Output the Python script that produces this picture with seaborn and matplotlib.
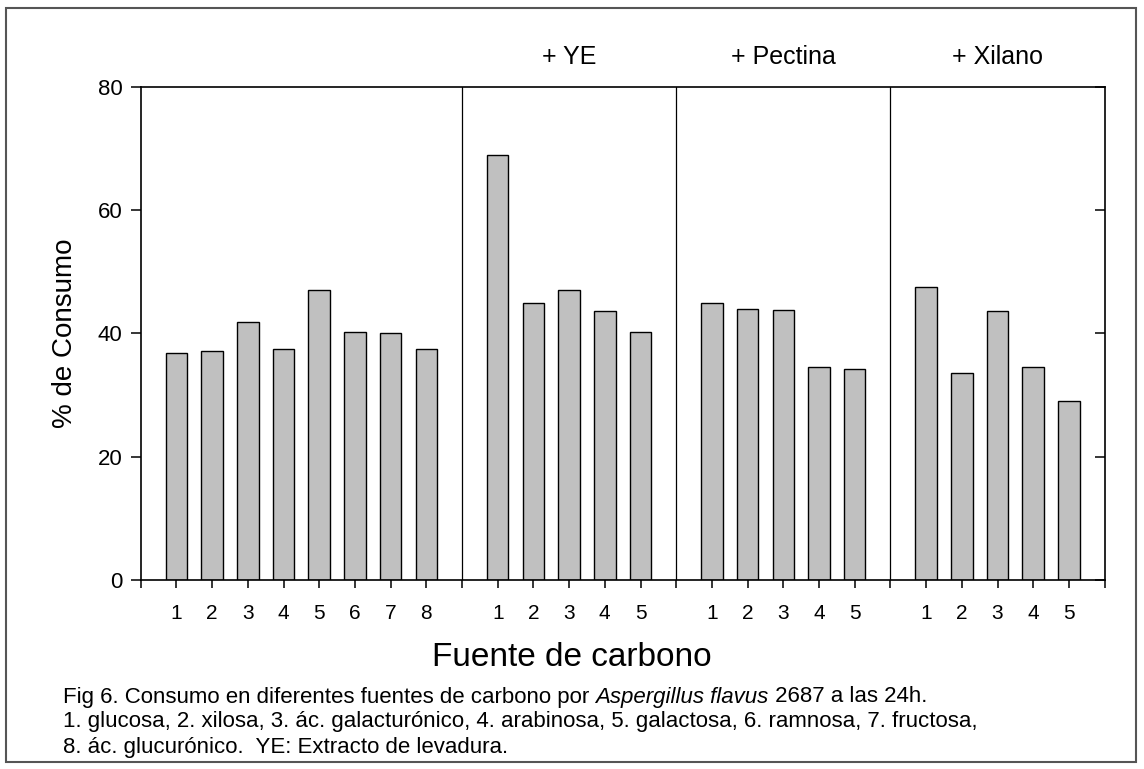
import numpy as np
import pandas as pd
import matplotlib
matplotlib.use("Agg")
import matplotlib.pyplot as plt
from matplotlib.patches import Rectangle
from matplotlib import font_manager
import seaborn as sns

# Carbon-source groups: base medium and three supplemented media
group_titles = ["", "+ YE", "+ Pectina", "+ Xilano"]
base_labels = ["1", "2", "3", "4", "5", "6", "7", "8"]
ye_labels = ["1", "2", "3", "4", "5"]
pectina_labels = ["1", "2", "3", "4", "5"]
xilano_labels = ["1", "2", "3", "4", "5"]

base_values = [36.8, 37.2, 41.8, 37.5, 47.0, 40.3, 40.1, 37.5]
ye_values = [69.0, 45.0, 47.0, 43.6, 40.2]
pectina_values = [44.9, 43.9, 43.8, 34.5, 34.2]
xilano_values = [47.5, 33.5, 43.7, 34.5, 29.0]

y_ticks = [0, 20, 40, 60, 80]

caption_lines = [
    ("Fig 6. Consumo en diferentes fuentes de carbono por ", "Aspergillus flavus", " 2687 a las 24h."),
    "1. glucosa, 2. xilosa, 3. ác. galacturónico, 4. arabinosa, 5. galactosa, 6. ramnosa, 7. fructosa,",
    "8. ác. glucurónico.  YE: Extracto de levadura.",
]

# Lay the groups out along a single numeric axis, one empty slot between groups
label_groups = [base_labels, ye_labels, pectina_labels, xilano_labels]
value_groups = [base_values, ye_values, pectina_values, xilano_values]
rows = []
separators = []
group_spans = []
pos = 0
for gi, (labs, vals) in enumerate(zip(label_groups, value_groups)):
    start = pos
    for lab, v in zip(labs, vals):
        pos += 1
        rows.append({"pos": pos, "label": lab, "value": v})
    pos += 1
    group_spans.append((start, pos))
    if gi < len(label_groups) - 1:
        separators.append(pos)
df = pd.DataFrame(rows)
x_max = pos

sns.set_theme(style="ticks")
available = {f.name for f in font_manager.fontManager.ttflist}
base_font = "Liberation Sans" if "Liberation Sans" in available else "DejaVu Sans"
plt.rcParams["font.family"] = [base_font, "DejaVu Sans"]
plt.rcParams["text.color"] = "black"
plt.rcParams["axes.labelcolor"] = "black"
plt.rcParams["xtick.color"] = "black"
plt.rcParams["ytick.color"] = "black"

fig = plt.figure(figsize=(11.44, 7.69), dpi=100)
ax = fig.add_axes([140.7 / 1144, 1 - 580 / 769, (1104.6 - 140.7) / 1144, (580 - 86.7) / 769])

sns.barplot(data=df, x="pos", y="value", native_scale=True, width=0.6,
            color="#c0c0c0", saturation=1, edgecolor="black", linewidth=1.0,
            ax=ax, errorbar=None)

ax.set_xlim(0, x_max)
ax.set_ylim(0, 80)

for s in separators:
    ax.axvline(s, color="black", linewidth=0.9)

for sp in ax.spines.values():
    sp.set_visible(True)
    sp.set_color("black")
    sp.set_linewidth(1.2)

# Bottom ticks on every slot, labels only under bars
ax.set_xticks(np.arange(0, x_max + 1), minor=True)
ax.set_xticks(df["pos"].tolist())
ax.set_xticklabels(df["label"].tolist())
ax.tick_params(axis="x", which="both", direction="out", length=6, width=1.1,
               color="black", pad=11, bottom=True, top=False, labelsize=15,
               labelcolor="black")

ax.set_yticks(y_ticks)
ax.set_yticklabels([str(t) for t in y_ticks])
ax.tick_params(axis="y", which="major", direction="out", length=7, width=1.1,
               color="black", pad=6, left=True, right=False, labelsize=16,
               labelcolor="black")

# Inward ticks on the right spine
ax_r = ax.twinx()
ax_r.set_ylim(ax.get_ylim())
ax_r.set_yticks(y_ticks)
ax_r.set_yticklabels([])
ax_r.tick_params(axis="y", direction="in", length=7, width=1.1, color="black")
for sp in ax_r.spines.values():
    sp.set_visible(False)

ax.set_xlabel("")
ax.set_ylabel("% de Consumo", fontsize=20, labelpad=14, color="black")

# Group titles above the panels
for title, (a, b) in zip(group_titles, group_spans):
    if title:
        ax.text((a + b) / 2, 1.06, title, transform=ax.get_xaxis_transform(),
                ha="center", va="center", fontsize=18, color="black")

fig.text(572 / 1144, 1 - 657 / 769, "Fuente de carbono", ha="center", va="center",
         fontsize=24, color="black")

# Caption
cap_x = 63 / 1144
cap_size = 16
cap_y = [697, 722, 747]
first = caption_lines[0]
t = fig.text(cap_x, 1 - cap_y[0] / 769, first[0], ha="left", va="center", fontsize=cap_size)
fig.canvas.draw()
r = fig.canvas.get_renderer()
bb = t.get_window_extent(r)
t2 = fig.text(bb.x1 / 1144, 1 - cap_y[0] / 769, first[1], ha="left", va="center",
              fontsize=cap_size, style="italic")
bb2 = t2.get_window_extent(r)
fig.text(bb2.x1 / 1144, 1 - cap_y[0] / 769, first[2], ha="left", va="center", fontsize=cap_size)
fig.text(cap_x, 1 - cap_y[1] / 769, caption_lines[1], ha="left", va="center", fontsize=cap_size)
fig.text(cap_x, 1 - cap_y[2] / 769, caption_lines[2], ha="left", va="center", fontsize=cap_size)

# Outer frame
fig.patches.append(Rectangle((6 / 1144, 1 - 762 / 769), (1136 - 6) / 1144, (762 - 7.5) / 769,
                             transform=fig.transFigure, fill=False, edgecolor="#555555",
                             linewidth=1.5))

fig.savefig("out.png", dpi=100)
